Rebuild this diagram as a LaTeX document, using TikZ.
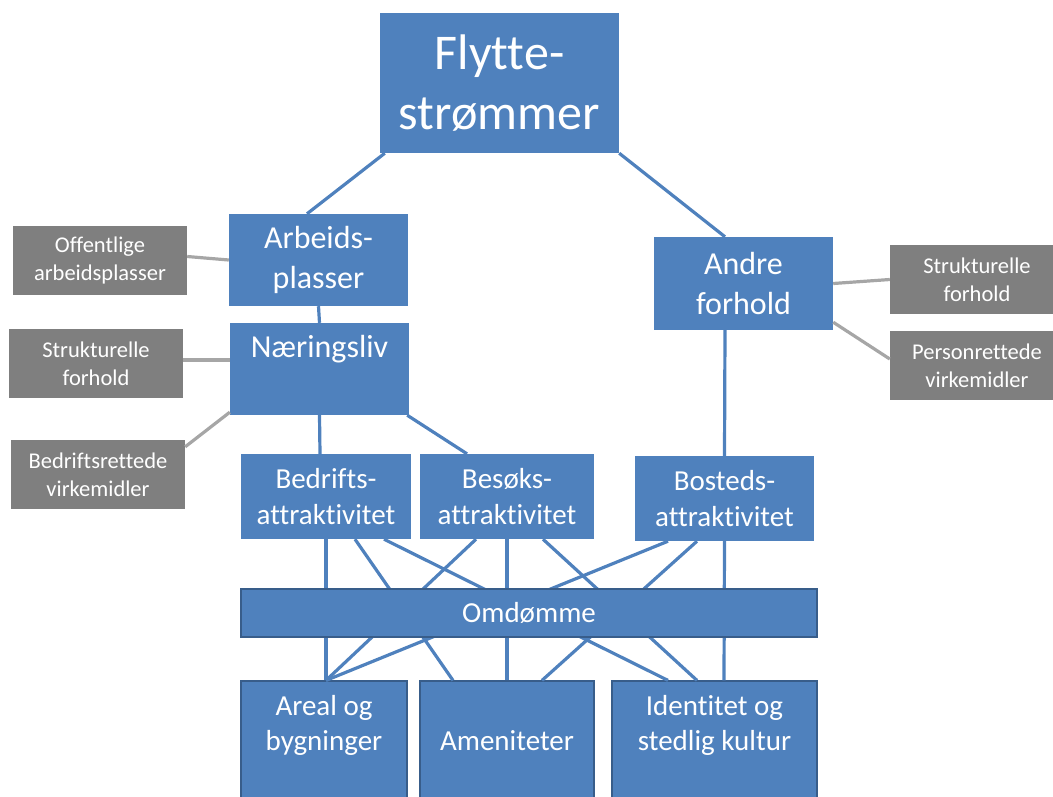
\documentclass[tikz,border=0pt]{standalone}
\usepackage{fontspec}
\setmainfont[Ligatures=NoCommon]{Carlito}
\definecolor{boxblue}{HTML}{4F81BD}
\definecolor{boxline}{HTML}{385D8A}
\definecolor{boxgray}{HTML}{7F7F7F}
\definecolor{linkgray}{HTML}{A6A6A6}
\begin{document}
\begin{tikzpicture}[x=1pt, y=-1pt,
    bluebox/.style={rectangle, fill=boxblue, text=white, align=center, inner sep=0pt},
    framed/.style={bluebox, draw=boxline, line width=1.2pt},
    graybox/.style={rectangle, fill=boxgray, text=white, align=center, inner sep=0pt,
      minimum width=174pt, minimum height=69pt, font=\fontsize{22.5}{28}\selectfont},
    link/.style={draw=boxblue, line width=3.2pt},
    graylink/.style={draw=linkgray, line width=3.2pt}]
    \clip (0,0) rectangle (1053,796);

    % Nodes
    \node[bluebox, minimum width=239pt, minimum height=140pt,
      font=\fontsize{50}{60}\selectfont] (flytte) at (499.5,83) {Flytte-\\strømmer};
    \node[bluebox, minimum width=179pt, minimum height=92pt,
      font=\fontsize{32}{40}\selectfont] (arbeid) at (318.5,260) {Arbeids-\\plasser};
    \node[bluebox, minimum width=179pt, minimum height=92pt,
      font=\fontsize{32}{40}\selectfont] (naering) at (319.5,369) {Næringsliv\\\vphantom{plasser}};
    \node[bluebox, minimum width=179pt, minimum height=93pt,
      font=\fontsize{32}{40}\selectfont] (andre) at (743.5,283.5) {Andre\\forhold};

    \node[graybox] (offentlig) at (100,260.5) {Offentlige\\arbeidsplasser};
    \node[graybox] (strukV) at (96,363.5) {Strukturelle\\forhold};
    \node[graybox] (bedriftV) at (98,474.5) {Bedriftsrettede\\virkemidler};
    \node[graybox] (strukH) at (977,279.5) {Strukturelle\\forhold};
    \node[graybox] (person) at (977,365.5) {Personrettede\\virkemidler};

    \node[bluebox, minimum width=170pt, minimum height=85pt,
      font=\fontsize{29}{36}\selectfont] (bedrift) at (326,496.5) {Bedrifts-\\attraktivitet};
    \node[bluebox, minimum width=174pt, minimum height=85pt,
      font=\fontsize{29}{36}\selectfont] (besok) at (507,496.5) {Besøks-\\attraktivitet};
    \node[bluebox, minimum width=179pt, minimum height=85pt,
      font=\fontsize{29}{36}\selectfont] (bosted) at (724.5,498.5) {Bosteds-\\attraktivitet};

    \node[framed, minimum width=166pt, minimum height=160pt,
      font=\fontsize{29}{35}\selectfont] (areal) at (324,761) {Areal og\strut\\bygninger\\\strut\\\strut};
    \node[framed, minimum width=174pt, minimum height=160pt,
      font=\fontsize{29}{35}\selectfont] (amenitet) at (507,761) {\strut\\Ameniteter\\\strut\\\strut};
    \node[framed, minimum width=205pt, minimum height=160pt,
      font=\fontsize{29}{35}\selectfont] (identitet) at (714.5,761) {Identitet og\strut\\stedlig kultur\\\strut\\\strut};

    % Edges
    \draw[link] ([xshift=5pt]flytte.south west) -- ([xshift=-11.5pt]arbeid.north);
    \draw[link] (flytte.south east) -- ([xshift=-18.5pt]andre.north);
    \draw[link] (arbeid.south) -- (naering.north);
    \draw[link] ([xshift=-18.5pt]andre.south) -- (bosted.north);
    \draw[link] (naering.south) -- ([xshift=-6pt]bedrift.north);
    \draw[link] ([xshift=-2pt]naering.south east) -- ([xshift=-40pt]besok.north);

    \draw[graylink] ([yshift=4pt]offentlig.east) -- (arbeid.west);
    \draw[graylink] ([yshift=3.5pt]strukV.east) -- ([yshift=9pt]naering.west);
    \draw[graylink] ([yshift=-7pt]bedriftV.north east) -- ([yshift=3pt]naering.south west);
    \draw[graylink] (andre.east) -- (strukH.west);
    \draw[graylink] ([yshift=8pt]andre.south east) -- ([yshift=6.5pt]person.west);

    % attraktivitet to the bottom boxes
    \draw[link] (bedrift.south) -- ([xshift=2pt]areal.north);
    \draw[link] ([xshift=29pt]bedrift.south) -- ([xshift=-54pt]amenitet.north);
    \draw[link] ([xshift=58pt]bedrift.south) -- ([xshift=-46.5pt]identitet.north);
    \draw[link] ([xshift=-31pt]besok.south) -- ([xshift=2pt]areal.north);
    \draw[link] (besok.south) -- (amenitet.north);
    \draw[link] ([xshift=36pt]besok.south) -- ([xshift=-17.5pt]identitet.north);
    \draw[link] ([xshift=-56.5pt]bosted.south) -- ([xshift=2pt]areal.north);
    \draw[link] ([xshift=-27.5pt]bosted.south) -- ([xshift=35pt]amenitet.north);
    \draw[link] (bosted.south) -- ([xshift=9.5pt]identitet.north);

    % Omdømme on top of the crossing lines
    \node[framed, minimum width=576pt, minimum height=48pt,
      font=\fontsize{29}{35}\selectfont] (omdomme) at (529,613) {Omdømme};
\end{tikzpicture}
\end{document}
